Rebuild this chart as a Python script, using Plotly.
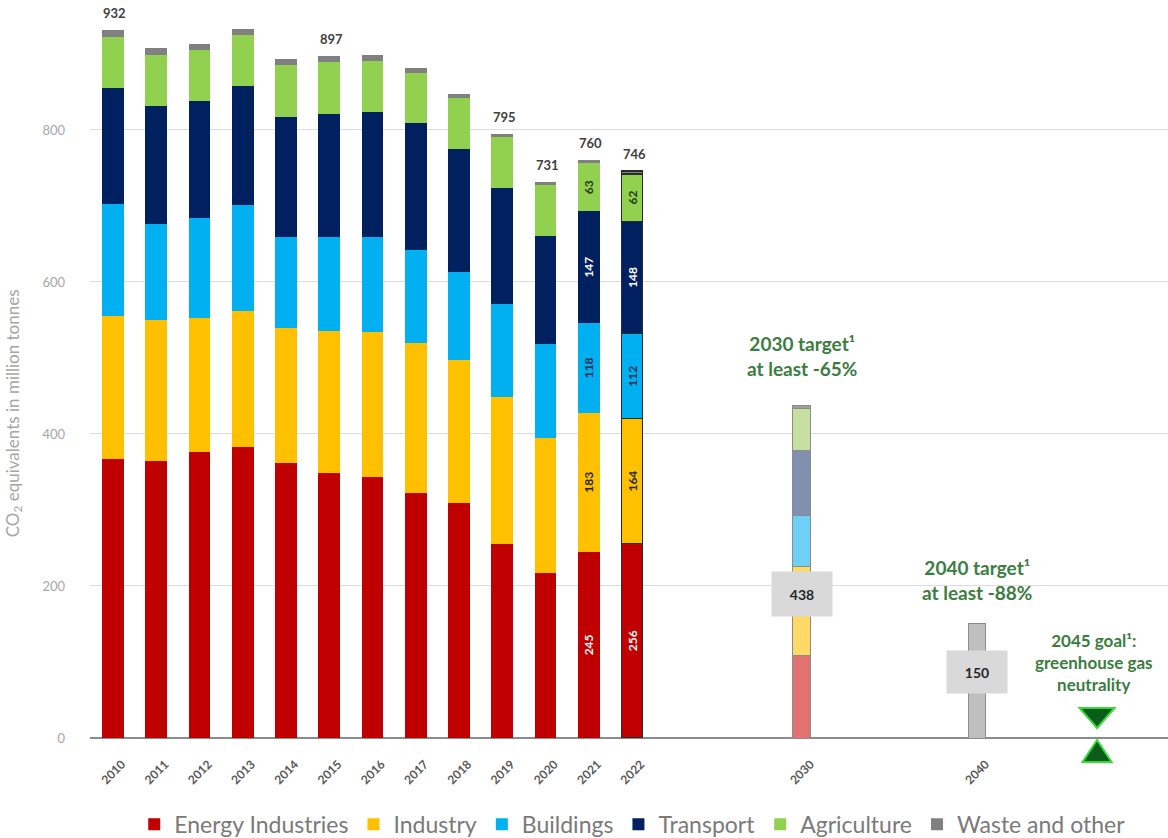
import plotly.graph_objects as go

# ---------------- data ----------------
years = ["2010", "2011", "2012", "2013", "2014", "2015", "2016",
         "2017", "2018", "2019", "2020", "2021", "2022"]
energy      = [367, 365, 376, 383, 362, 349, 343, 322, 309, 255, 217, 245, 256]
industry    = [188, 185, 177, 179, 177, 186, 191, 198, 188, 194, 178, 183, 164]
buildings   = [148, 126, 131, 139, 120, 124, 125, 122, 116, 122, 123, 118, 112]
transport   = [152, 156, 154, 157, 158, 162, 165, 167, 162, 153, 143, 147, 148]
agriculture = [67, 67, 67, 67, 69, 68, 67, 66, 67, 67, 67, 63, 62]
waste       = [10, 9, 8, 8, 7, 8, 8, 7, 5, 4, 3, 4, 4]

# 2030 target split by sector (energy, industry, buildings, transport, agriculture, waste)
target_2030 = [108, 118, 67, 85, 56, 4]
target_2030_total = 438
target_2040_total = 150
goal_2045_total = 0

labeled_years = ["2010", "2015", "2019", "2020", "2021", "2022"]
labeled_totals = [932, 897, 795, 731, 760, 746]

detail_years = ["2021", "2022"]  # segments labelled with their values

sector_names = ["Energy Industries", "Industry", "Buildings", "Transport",
                "Agriculture", "Waste and other"]
sector_values = [energy, industry, buildings, transport, agriculture, waste]

# ---------------- styling ----------------
colors = ["#C00000", "#FFC000", "#00B0F0", "#002060", "#92D050", "#808080"]
light_colors = ["#E07272", "#FFD966", "#6DD0F4", "#8090AE", "#C5E0A0", "#9E9E9E"]
seg_text_colors = ["#FFFFFF", "#262626", "#1F2F50", "#FFFFFF", "#1E3A0A", "#262626"]

# x positions (layout only)
hist_pos = {y: i for i, y in enumerate(years)}
pos_2030 = 15.92
pos_2040 = 19.97
pos_2045 = 22.75

green_txt = "#3B7D3F"
FONT = "Lato"

fig = go.Figure()

for k, (name, vals) in enumerate(zip(sector_names, sector_values)):
    xs = [hist_pos[y] for y in years] + [pos_2030]
    ys = list(vals) + [target_2030[k]]
    widths = [0.5] * len(years) + [0.42]
    cols = [colors[k]] * len(years) + [light_colors[k]]
    line_cols = ["rgba(0,0,0,0)"] * len(years) + ["#8C8C8C"]
    line_w = [0] * len(years) + [1]
    idx22 = years.index("2022")
    line_cols[idx22] = "#2B2B2B"
    line_w[idx22] = 1.2
    texts = [str(v) if (y in detail_years and k < 5) else "" for y, v in zip(years, vals)] + [""]
    fig.add_trace(go.Bar(
        x=xs, y=ys, width=widths, name=name,
        marker=dict(color=cols, line=dict(color=line_cols, width=line_w)),
        text=texts, textposition="inside", textangle=-90,
        insidetextanchor="middle",
        insidetextfont=dict(family=FONT, size=12, color=seg_text_colors[k], weight="bold"),
        hoverinfo="skip",
    ))

# 2040 target bar
fig.add_trace(go.Bar(
    x=[pos_2040], y=[target_2040_total], width=[0.4], showlegend=False,
    marker=dict(color="#BFBFBF", line=dict(color="#8C8C8C", width=1)),
    hoverinfo="skip",
))

# 2045 neutrality hourglass (two triangles anchored at the 2045 goal value)
shapes = [
    dict(type="path", xref="x", yref="paper", xsizemode="pixel", ysizemode="pixel",
         xanchor=pos_2045, yanchor=goal_2045_total,
         path="M -17.5 30 L 17.5 30 L 0 10 Z",
         fillcolor="#0A5C1A", line=dict(color="#36D936", width=2), layer="above"),
    dict(type="path", xref="x", yref="paper", xsizemode="pixel", ysizemode="pixel",
         xanchor=pos_2045, yanchor=goal_2045_total,
         path="M 0 -2 L 14.5 -24 L -14.5 -24 Z",
         fillcolor="#0A5C1A", line=dict(color="#36D936", width=2), layer="above"),
]

annotations = []
# totals above bars
for y, t in zip(labeled_years, labeled_totals):
    annotations.append(dict(
        x=hist_pos[y], y=t, text=f"<b>{t}</b>", showarrow=False,
        yanchor="bottom", yshift=7, xshift=2,
        font=dict(family=FONT, size=13, color="#404040"),
    ))

# value boxes for targets
annotations.append(dict(
    x=pos_2030, y=190, text=f"<b>{target_2030_total}</b>", showarrow=False,
    bgcolor="#D9D9D9", width=58, height=42,
    font=dict(family=FONT, size=14, color="#262626"),
))
annotations.append(dict(
    x=pos_2040, y=87, text=f"<b>{target_2040_total}</b>", showarrow=False,
    bgcolor="#D9D9D9", width=58, height=40,
    font=dict(family=FONT, size=14, color="#262626"),
))

# target texts
annotations.append(dict(
    x=pos_2030, y=503, text="<b>2030 target¹<br>at least -65%</b>", showarrow=False,
    font=dict(family=FONT, size=19, color=green_txt),
))
annotations.append(dict(
    x=pos_2040, y=208, text="<b>2040 target¹<br>at least -88%</b>", showarrow=False,
    font=dict(family=FONT, size=19, color=green_txt),
))
annotations.append(dict(
    x=pos_2045, y=100, text="<b>2045 goal¹:<br>greenhouse gas<br>neutrality</b>", showarrow=False,
    xshift=-3,
    font=dict(family=FONT, size=17, color=green_txt),
))

# y-axis title
annotations.append(dict(
    xref="paper", yref="paper", x=-0.0835, y=0.44,
    text="CO<sub>2</sub> equivalents in million tonnes", textangle=-90,
    showarrow=False, xanchor="left",
    font=dict(family=FONT, size=17, color="#A6A6A6"),
))

tick_pos = [hist_pos[y] for y in years] + [pos_2030, pos_2040]
tick_txt = years + ["2030", "2040"]

fig.update_layout(
    width=1168, height=838,
    margin=dict(l=90, r=0, t=0, b=100, autoexpand=False),
    barmode="stack",
    plot_bgcolor="white", paper_bgcolor="white",
    font=dict(family=FONT),
    xaxis=dict(
        range=[-0.53, 24.39], tickmode="array", tickvals=tick_pos, ticktext=tick_txt,
        tickangle=-45, showgrid=False, zeroline=False,
        showline=False, ticks="",
        tickfont=dict(family=FONT, size=12, color="#595959", weight="bold"),
        ticklabelstandoff=16, ticklabelshift=9,
    ),
    yaxis=dict(
        range=[0, 971], tickvals=[0, 200, 400, 600, 800],
        showgrid=True, gridcolor="#DCDCDC", gridwidth=1,
        zeroline=True, zerolinecolor="#8C8C8C", zerolinewidth=1.5,
        showline=False, ticks="",
        tickfont=dict(family=FONT, size=13, color="#A6A6A6"),
        ticklabelstandoff=24,
    ),
    legend=dict(
        orientation="h", x=0.503, xanchor="center", y=-0.146, yanchor="bottom",
        font=dict(family=FONT, size=23, color="#7A7A7A"), traceorder="normal",
        itemwidth=30,
    ),
    annotations=annotations,
    shapes=shapes,
    showlegend=True,
)

fig.write_html("out.html")
